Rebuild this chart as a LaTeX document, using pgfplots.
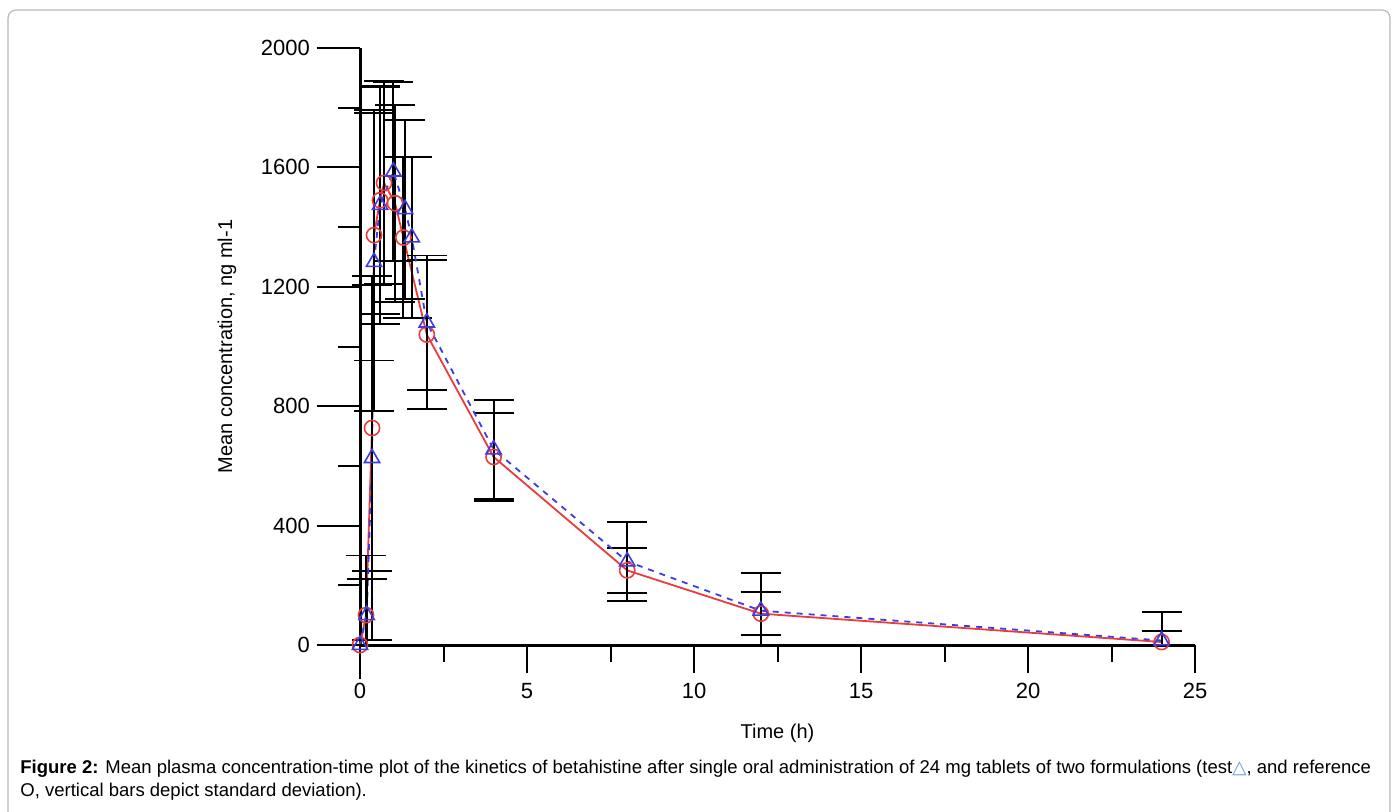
\documentclass[border=0pt]{standalone}
\usepackage{pgfplots}
\pgfplotsset{compat=1.18}
\usepackage{pgfplotstable}
\usepackage{fontspec}
\setmainfont{Liberation Sans}
\newfontfamily\symfont{DejaVu Sans}
\definecolor{myred}{RGB}{235,60,60}
\definecolor{myblue}{RGB}{60,60,225}
\definecolor{lightblue}{RGB}{110,150,230}
\definecolor{framegray}{RGB}{185,185,185}

\pgfplotstableread{
t c ep em
0 0 0 0
0.18 100 200 100
0.36 727 480 480
0.42 1373 420 420
0.60 1490 380 380
0.72 1548 340 340
1.05 1480 330 330
1.30 1365 270 270
2 1040 250 250
4 630 148 148
8 250 75 75
12 105 72 72
24 10 37 10
}\refdata

\pgfplotstableread{
t c ep em
0 0 0 0
0.20 100 120 100
0.36 626 610 610
0.42 1283 500 500
0.60 1474 400 400
1.00 1586 300 300
1.35 1460 300 300
1.55 1365 270 270
2 1080 225 225
4 655 166 166
8 280 133 133
12 115 126 115
24 15 97 15
}\testdata

\begin{document}
\begin{tikzpicture}
\useasboundingbox (0,0) rectangle (699pt,-406pt);
\draw[framegray, line width=0.6pt, rounded corners=4pt] (4pt,-5pt) rectangle (695pt,-430pt);
\begin{axis}[
  at={(180pt,-322.5pt)}, anchor=south west,
  scale only axis, width=417.5pt, height=298.5pt,
  xmin=0, xmax=25, ymin=0, ymax=2000,
  axis x line=bottom, axis y line=left,
  axis line style={-, line width=1.5pt, black},
  clip=false,
  tick align=outside,
  major tick length=21.5pt, minor tick length=11pt,
  ytick={0,400,...,2000},
  minor ytick={200,600,...,1800},
  ytick style={line width=1.0pt, black},
  minor tick style={line width=1.0pt, black},
  xtick={0,5,...,25},
  xtick style={draw=none},
  tick label style={font=\fontsize{11pt}{13pt}\selectfont},
  /pgf/number format/assume math mode=true,
  scaled y ticks=false,
  yticklabel={\pgfmathprintnumber[fixed,1000 sep={}]{\tick}},
  xticklabel style={yshift=6pt},
  label style={font=\fontsize{11pt}{13pt}\selectfont},
  xlabel={Time (h)},
  ylabel={Mean concentration, ng ml-1},
  every axis x label/.style={at={(axis description cs:0.5,-0.1474)}, anchor=center},
  every axis y label/.style={at={(axis description cs:-0.1593,0.5)}, rotate=90, anchor=center},
]
\addplot[myred, line width=0.9pt, mark=o, mark size=3.8pt,
  mark options={solid, draw=myred, line width=0.8pt},
  error bars/.cd, y dir=both, y explicit,
  error bar style={black, line width=0.95pt, solid},
  error mark options={rotate=90, mark size=10pt, black, line width=0.95pt}]
  table[x=t, y=c, y error plus=ep, y error minus=em] {\refdata};
\addplot[myblue, line width=0.9pt, dashed, mark=triangle, mark size=4.4pt,
  mark options={solid, draw=myblue, line width=0.8pt},
  error bars/.cd, y dir=both, y explicit,
  error bar style={black, line width=0.95pt, solid},
  error mark options={rotate=90, mark size=10pt, black, line width=0.95pt}]
  table[x=t, y=c, y error plus=ep, y error minus=em] {\testdata};
% x axis ticks
\draw[line width=1.0pt] (axis cs:0,0) -- ++(0,-17pt);
\draw[line width=1.0pt] (axis cs:5,0) -- ++(0,-14pt);
\draw[line width=1.0pt] (axis cs:10,0) -- ++(0,-14pt);
\draw[line width=1.0pt] (axis cs:15,0) -- ++(0,-14pt);
\draw[line width=1.0pt] (axis cs:20,0) -- ++(0,-14pt);
\draw[line width=1.0pt] (axis cs:25,0) -- ++(0,-14pt);
\draw[line width=1.0pt] (axis cs:2.5,0) -- ++(0,-8.5pt);
\draw[line width=1.0pt] (axis cs:7.5,0) -- ++(0,-8.5pt);
\draw[line width=1.0pt] (axis cs:12.5,0) -- ++(0,-8.5pt);
\draw[line width=1.0pt] (axis cs:17.5,0) -- ++(0,-8.5pt);
\draw[line width=1.0pt] (axis cs:22.5,0) -- ++(0,-8.5pt);
\end{axis}
\node[anchor=base west, inner sep=0pt, font=\fontsize{9.25pt}{11pt}\selectfont] at (10pt,-386.5pt)
  {\textbf{Figure 2:} Mean plasma concentration-time plot of the kinetics of betahistine after single oral administration of 24 mg tablets of two formulations (test{\symfont\color{lightblue}△}, and reference};
\node[anchor=base west, inner sep=0pt, font=\fontsize{9.25pt}{11pt}\selectfont] at (10pt,-398pt)
  {O, vertical bars depict standard deviation).};
\end{tikzpicture}
\end{document}
